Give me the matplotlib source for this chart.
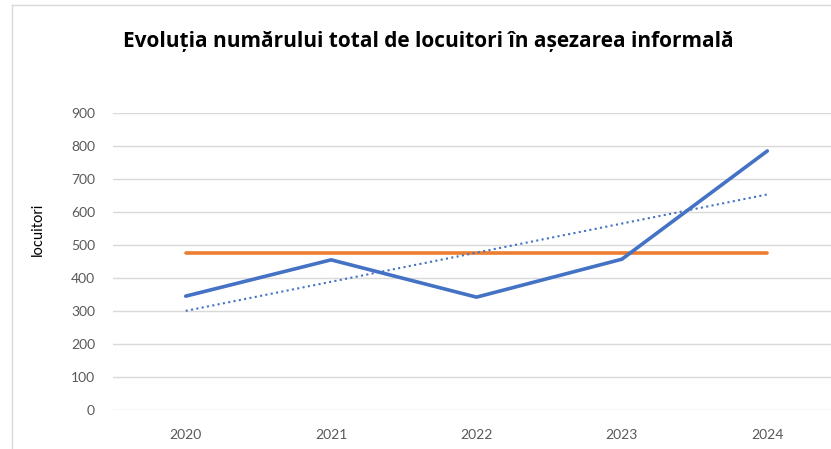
import numpy as np
import matplotlib
matplotlib.use("Agg")
import matplotlib.pyplot as plt
from matplotlib.lines import Line2D

# date
ani = ["2020", "2021", "2022", "2023", "2024"]
locuitori = [345, 455, 342, 457, 785]

plt.rcParams['font.family'] = ['Lato', 'DejaVu Sans']

fig = plt.figure(figsize=(8.31, 4.49), dpi=100)
W, H = 831, 449

# zona de plotare (pixeli din imagine)
left, right, top, bottom = 113, 840, 113, 410
ax = fig.add_axes([left / W, 1 - bottom / H, (right - left) / W, (bottom - top) / H])

x = np.arange(len(ani))
medie = np.mean(locuitori)
panta, interceptie = np.polyfit(x, locuitori, 1)

ax.plot(x, [medie] * len(x), color='#ED7D31', lw=2.6, solid_capstyle='round', zorder=3)
ax.plot(x, panta * x + interceptie, color='#4472C4', lw=1.5, linestyle=(0, (1, 1.6)), zorder=3)
ax.plot(x, locuitori, color='#4472C4', lw=2.6, solid_capstyle='round', solid_joinstyle='round', zorder=4)

ax.set_xlim(-0.5, len(ani) - 0.5)
ax.set_ylim(0, 900)
ax.set_yticks(range(0, 901, 100))
ax.set_xticks(x)
ax.set_xticklabels(ani)
ax.grid(axis='y', color='#d9d9d9', lw=1)
ax.set_axisbelow(True)
for s in ax.spines.values():
    s.set_visible(False)
ax.tick_params(length=0, labelsize=10, labelcolor='#595959')
ax.tick_params(axis='y', pad=13)
ax.tick_params(axis='x', pad=14)

fig.text(38 / W, 1 - 229 / H, 'locuitori', rotation=90, ha='center', va='center',
         fontsize=10.5, color='#000000')
fig.text(428 / W, 1 - 47 / H, 'Evoluția numărului total de locuitori în așezarea informală',
         ha='center', va='baseline', fontsize=15, fontweight='bold', color='#000000',
         family=['Open Sans', 'DejaVu Sans'])

# chenarul graficului
fig.add_artist(Line2D([12 / W, 12 / W], [0, 1 - 5 / H], color='#d9d9d9', lw=1))
fig.add_artist(Line2D([12 / W, 1], [1 - 5 / H, 1 - 5 / H], color='#d9d9d9', lw=1))

fig.savefig('out.png', dpi=100)
